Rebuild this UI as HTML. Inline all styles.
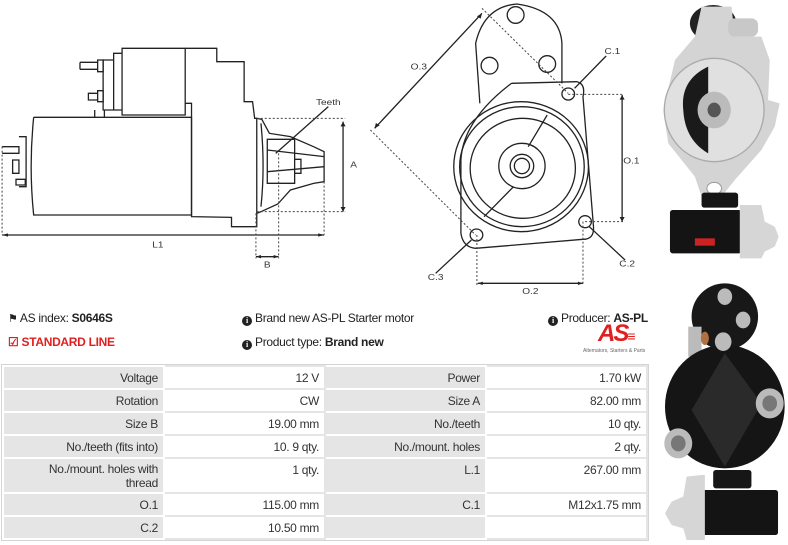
<!DOCTYPE html>
<html><head><meta charset="utf-8"><style>
body{margin:0;width:788px;height:545px;background:#fff;overflow:hidden;position:relative;font-family:"Liberation Sans",sans-serif;color:#222}
.a{position:absolute}
.info{font-size:12px;letter-spacing:-0.3px;white-space:nowrap}
.ic{display:inline-block;width:10px;height:10px;border-radius:50%;background:#222;color:#fff;font:bold 8px/10px "Liberation Serif",serif;text-align:center;vertical-align:-1px;margin-right:3px}
table{position:absolute;left:2px;top:365px;border-collapse:collapse;font-size:12px;letter-spacing:-0.3px;outline:1px solid #d4d4d4}
td{border:2px solid #fff;text-align:right;padding:0 5px;height:21px;line-height:14px;vertical-align:middle;color:#333;box-sizing:border-box}
tr{height:23px}
td.l{background:#e5e5e5}
td.v{background:#fff;border-color:#e5e5e5}
</style></head><body>
<svg class="a" style="left:0;top:0" width="660" height="300" viewBox="0 0 1568 900" preserveAspectRatio="none" fill="none" stroke="#222">
<g stroke-width="1.3">
<path vector-effect="non-scaling-stroke" d="M80,352 L455,352 L455,645 L80,645 Q68,500 80,352"/>
<path vector-effect="non-scaling-stroke" d="M290,145 L440,145 L440,345 L290,345 Z M270,160 L290,160 L290,330 L270,330 Z M245,180 L270,180 L270,330 L245,330 Z M225,330 L225,352 M248,330 L248,352"/>
<path vector-effect="non-scaling-stroke" d="M440,145 L515,145 L515,185 L580,185 L580,305 L600,305 L605,355 L610,355 L610,680 L550,680 L550,652 L455,650 L455,310 L440,310"/>
<path vector-effect="non-scaling-stroke" d="M610,355 L622,358 L640,400 L690,410 L745,440 L770,455 L770,545 L745,550 L690,570 L660,612 L620,635 L610,640"/>
<path vector-effect="non-scaling-stroke" d="M635,418 L700,418 L700,550 L635,550 Z M635,450 L770,470 M635,515 L770,500 M700,478 L715,478 L715,520 L700,520 M620,370 Q630,500 620,620"/>
<path vector-effect="non-scaling-stroke" d="M190,187 L232,187 M190,208 L232,208 M190,187 L190,208 M232,180 L245,180 L245,215 L232,215 Z M210,280 L232,280 L232,300 L210,300 Z M232,272 L245,272 L245,305 L232,305 Z M5,440 L45,440 L45,460 L5,460 M45,410 L62,410 L62,560 L45,560 M30,480 L45,480 L45,520 L30,520 Z M38,538 L60,538 L60,555 L38,555 Z"/>
<path vector-effect="non-scaling-stroke" d="M1140,310 L1130,130 Q1150,20 1228,12 Q1330,30 1335,130 L1335,250"/>
<path vector-effect="non-scaling-stroke" d="M1215,250 L1370,245 Q1392,252 1385,290 L1410,680 Q1412,718 1385,718 L1130,745 Q1100,742 1095,700 L1095,480 Q1100,360 1215,250"/>
<ellipse vector-effect="non-scaling-stroke" cx="1225" cy="45" rx="20" ry="25"/>
<ellipse vector-effect="non-scaling-stroke" cx="1163" cy="197" rx="20" ry="25"/>
<ellipse vector-effect="non-scaling-stroke" cx="1300" cy="192" rx="20" ry="25"/>
<ellipse vector-effect="non-scaling-stroke" cx="1350" cy="282" rx="15" ry="18"/>
<ellipse vector-effect="non-scaling-stroke" cx="1390" cy="665" rx="15" ry="18"/>
<ellipse vector-effect="non-scaling-stroke" cx="1132" cy="705" rx="15" ry="18"/>
<ellipse vector-effect="non-scaling-stroke" cx="1238" cy="500" rx="160" ry="195"/>
<ellipse vector-effect="non-scaling-stroke" cx="1240" cy="500" rx="148" ry="180"/>
<ellipse vector-effect="non-scaling-stroke" cx="1242" cy="505" rx="125" ry="150"/>
<ellipse vector-effect="non-scaling-stroke" cx="1240" cy="498" rx="55" ry="68"/>
<ellipse vector-effect="non-scaling-stroke" cx="1240" cy="498" rx="28" ry="35"/>
<ellipse vector-effect="non-scaling-stroke" cx="1240" cy="498" rx="18" ry="23"/>
<path vector-effect="non-scaling-stroke" d="M1300,345 L1255,440 M1220,560 L1150,650"/>
<path vector-effect="non-scaling-stroke" d="M1145,40 L890,385 M780,320 L655,460 M1440,168 L1365,265 M1478,285 L1478,665 M1485,780 L1400,680 M1035,820 L1120,720 M1135,850 L1385,850 M5,705 L770,705 M608,770 L662,770 M815,365 L815,635"/>
</g>
<g stroke-width="1" stroke-dasharray="2 2" stroke="#444">
<path vector-effect="non-scaling-stroke" d="M5,440 L5,705 M770,545 L770,705 M608,640 L608,775 M662,460 L662,775 M610,355 L820,355 M610,635 L820,635 M1145,25 L1350,280 M880,390 L1130,705 M1350,283 L1480,283 M1390,665 L1480,665 M1133,705 L1133,855 M1385,665 L1385,855"/>
</g>
<g fill="#222" stroke="none">
<path d="M5,705 l14,-5 l0,10z M770,705 l-14,-5 l0,10z M608,770 l12,-5 l0,10z M662,770 l-12,-5 l0,10z M815,365 l-6,14 l12,0z M815,635 l-6,-14 l12,0z M1478,285 l-6,14 l12,0z M1478,665 l-6,-14 l12,0z M1135,850 l12,-5 l0,10z M1385,850 l-12,-5 l0,10z M1145,40 l-3,16 l-9,-7z M890,385 l3,-16 l9,7z"/>
</g>
<g fill="#333" stroke="none" font-family="Liberation Sans Narrow, Liberation Sans, sans-serif" font-size="24" text-anchor="middle">
<text x="780" y="315">Teeth</text><text x="840" y="502">A</text><text x="375" y="742">L1</text><text x="635" y="802">B</text>
<text x="995" y="208">O.3</text><text x="1455" y="162">C.1</text><text x="1500" y="490">O.1</text><text x="1490" y="800">C.2</text><text x="1035" y="840">C.3</text><text x="1260" y="882">O.2</text>
</g>
</svg>

<svg class="a" style="left:655px;top:0" width="133" height="545" viewBox="0 0 400 1635" preserveAspectRatio="none">
<ellipse cx="175" cy="70" rx="70" ry="55" fill="#222"/>
<path d="M140,20 L230,20 L240,110 L320,110 L345,180 L340,300 L375,310 L360,380 L320,450 L240,540 L200,590 L140,590 L120,530 L40,430 L25,330 L60,180 L120,110 Z" fill="#d4d4d4"/>
<rect x="220" y="55" width="90" height="55" rx="20" fill="#c8c8c8"/>
<ellipse cx="178" cy="330" rx="150" ry="155" fill="#e0e0e0" stroke="#aaa" stroke-width="4"/>
<path d="M160,200 Q75,240 85,330 Q90,420 160,460 Z" fill="#1a1a1a"/>
<ellipse cx="178" cy="330" rx="50" ry="55" fill="#bbb"/>
<ellipse cx="178" cy="330" rx="20" ry="22" fill="#555"/>
<ellipse cx="178" cy="565" rx="22" ry="18" fill="#fff" stroke="#999" stroke-width="3"/>
<rect x="140" y="578" width="110" height="45" rx="8" fill="#151515"/>
<rect x="45" y="630" width="215" height="130" rx="8" fill="#141414"/>
<path d="M255,615 L320,615 L330,665 L360,680 L372,710 L360,740 L330,755 L320,775 L255,775 Z" fill="#d6d6d6"/>
<rect x="120" y="715" width="60" height="22" fill="#c22"/>
<g transform="translate(0,80)">
<ellipse cx="210" cy="870" rx="100" ry="100" fill="#181818"/>
<rect x="100" y="900" width="40" height="90" fill="#bbb"/>
<ellipse cx="210" cy="1140" rx="180" ry="185" fill="#151515"/>
<path d="M210,980 L320,1130 L210,1320 L110,1150 Z" fill="#2a2a2a"/>
<ellipse cx="210" cy="810" rx="22" ry="25" fill="#bbb"/>
<ellipse cx="265" cy="880" rx="22" ry="25" fill="#bbb"/>
<ellipse cx="205" cy="945" rx="25" ry="28" fill="#bbb"/>
<ellipse cx="150" cy="935" rx="12" ry="20" fill="#b07040"/>
<ellipse cx="345" cy="1130" rx="42" ry="45" fill="#bbb"/>
<ellipse cx="345" cy="1130" rx="22" ry="24" fill="#777"/>
<ellipse cx="70" cy="1250" rx="42" ry="45" fill="#bbb"/>
<ellipse cx="70" cy="1250" rx="22" ry="24" fill="#777"/>
</g>
<g transform="translate(0,50)">
<rect x="175" y="1360" width="115" height="55" rx="8" fill="#161616"/>
<rect x="140" y="1420" width="230" height="135" rx="8" fill="#141414"/>
<path d="M140,1375 L95,1380 L85,1440 L50,1455 L30,1490 L50,1525 L85,1535 L95,1570 L150,1570 L150,1375 Z" fill="#d6d6d6"/>
</g>
</svg>

<div class="a info" style="left:8px;top:311px"><span style="font-size:11px">&#9873;</span> AS index: <b>S0646S</b></div>
<div class="a info" style="left:8px;top:335px;color:#e02020;font-weight:bold">&#9745; STANDARD LINE</div>
<div class="a info" style="left:242px;top:311px"><span class="ic">i</span>Brand new AS-PL Starter motor</div>
<div class="a info" style="left:242px;top:335px"><span class="ic">i</span>Product type: <b>Brand new</b></div>
<div class="a info" style="left:548px;top:311px"><span class="ic">i</span>Producer: <b>AS-PL</b></div>
<div class="a" style="left:598px;top:320px;color:#e02020;font:italic bold 24px 'Liberation Sans',sans-serif;letter-spacing:-2px">AS<span style="font-size:14px">&#8801;</span></div>
<div class="a" style="left:583px;top:348px;font-size:5px;color:#666;white-space:nowrap">Alternators, Starters &amp; Parts</div>

<table>
<colgroup><col style="width:161px"><col style="width:161px"><col style="width:161px"><col style="width:161px"></colgroup>
<tr><td class="l">Voltage</td><td class="v">12 V</td><td class="l">Power</td><td class="v">1.70 kW</td></tr>
<tr><td class="l">Rotation</td><td class="v">CW</td><td class="l">Size A</td><td class="v">82.00 mm</td></tr>
<tr><td class="l">Size B</td><td class="v">19.00 mm</td><td class="l">No./teeth</td><td class="v">10 qty.</td></tr>
<tr><td class="l">No./teeth (fits into)</td><td class="v">10. 9 qty.</td><td class="l">No./mount. holes</td><td class="v">2 qty.</td></tr>
<tr style="height:35px"><td class="l" style="height:35px">No./mount. holes with<br>thread</td><td class="v" style="vertical-align:top;padding-top:4px">1 qty.</td><td class="l" style="vertical-align:top;padding-top:4px">L.1</td><td class="v" style="vertical-align:top;padding-top:4px">267.00 mm</td></tr>
<tr><td class="l">O.1</td><td class="v">115.00 mm</td><td class="l">C.1</td><td class="v">M12x1.75 mm</td></tr>
<tr><td class="l">C.2</td><td class="v">10.50 mm</td><td class="l"></td><td class="v"></td></tr>
</table>
</body></html>
